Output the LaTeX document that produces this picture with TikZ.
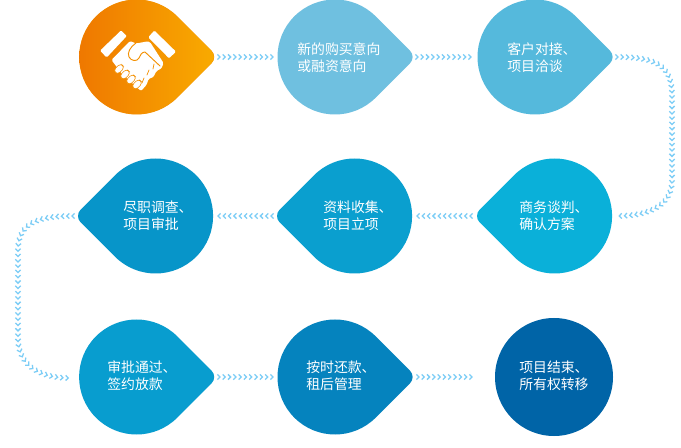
\documentclass[tikz,border=0pt]{standalone}
\usepackage{fontspec}
\setmainfont{Noto Sans CJK SC}
\usetikzlibrary{decorations.markings}
\definecolor{cA}{HTML}{6FC0E0}
\definecolor{cB}{HTML}{55B9DC}
\definecolor{cC}{HTML}{0AB0D9}
\definecolor{cD}{HTML}{0A9FCF}
\definecolor{cE}{HTML}{0795C9}
\definecolor{cF}{HTML}{089DCF}
\definecolor{cG}{HTML}{0583BE}
\definecolor{cH}{HTML}{0064A7}
\definecolor{cChev}{HTML}{7CCDF6}
\definecolor{cOrL}{HTML}{EF7800}
\definecolor{cOrR}{HTML}{F9AB00}
\definecolor{cIcon}{HTML}{F39000}
\tikzset{
  x=.75pt,y=-.75pt,
  label text/.style={text=white,font=\fontsize{10.4pt}{13pt}\selectfont,align=left,anchor=west,inner sep=0pt},
  chevrons/.style={decoration={markings,mark=between positions 0 and 1 step 3.98pt with {
      \draw[cChev,line width=.95pt,line cap=butt,line join=miter] (-1.6,-2.6)--(1,0)--(-1.6,2.6);}},
      postaction={decorate}},
  cuff/.style={fill=white,rounded corners=.8pt},
  finger/.style={draw=cIcon,line width=.45pt,fill=white}
}
\newcommand{\dropat}[4]{% x, y, xscale, fill options
  \fill[#4,shift={(#1,#2)},xscale=#3] (45:57.5) arc[start angle=45,end angle=315,radius=57.5]
    -- ++(34.3,34.3) arc[start angle=-45,end angle=45,radius=9] -- cycle;}
\begin{document}
\begin{tikzpicture}
\useasboundingbox[fill=white] (0,0) rectangle (681,448);
% row 1: solid colour beneath the shading keeps its edge clean
\dropat{136.6}{57}{1}{cIcon}
\begin{scope}
  \clip[shift={(136.6,57)}] (45:57.2) arc[start angle=45,end angle=315,radius=57.2]
    -- ++(34.2,34.2) arc[start angle=-45,end angle=45,radius=9] -- cycle;
  \shade[left color=cOrL,right color=cOrR] (79,-2) rectangle (216,116);
\end{scope}
\dropat{335}{57}{1}{cA}
\dropat{535}{57}{1}{cB}
% row 2 (tips to the left)
\dropat{554.6}{216}{-1}{cC}
\dropat{354.6}{216}{-1}{cD}
\dropat{155.6}{216}{-1}{cE}
% row 3
\dropat{136.6}{377}{1}{cF}
\dropat{335}{377}{1}{cG}
\fill[cH] (554,377) circle[radius=59];
% handshake icon
\fill[cuff] (121,30.5)--(126.8,36)--(106.7,57.5)--(100,50.7)--cycle;
\fill[cuff] (154.3,30.5)--(176,51.7)--(169,58.3)--(148.3,37.3)--cycle;
\fill[white,rounded corners=1pt] (130,41)--(136,43.5)--(147,41.5)--(150,42)--(163.5,63)--(161.5,68.5)
  --(156.5,71)--(153.5,77)--(148.5,79)--(146.5,85)--(141,91)--(122,74)--(111.5,60)--cycle;
\draw[cIcon,line width=.7pt,line cap=round,line join=round] (136,43)
  .. controls (130,47) and (127,53) .. (129,57) .. controls (131,61) and (137,62) .. (139,58)
  .. controls (140,55) and (142,52) .. (145,52) -- (160,66);
\draw[cIcon,line width=.55pt,line cap=round] (154,64)--(153,69) (149,70)--(147,75) (144,78)--(142,83);
\foreach \fx/\fy in {119/69,125/74.5,131/79.5,137/84.5}{
  \fill[finger,shift={(\fx,\fy)},rotate=45,rounded corners=2.5pt] (-5,-3) rectangle (5,3);
}
% labels
\node[label text] (n2) at (297,57.5) {新的购买意向\\或融资意向};
\node[label text] (n3) at (507,57.5) {客户对接、\\项目洽谈};
\node[label text] (n4) at (519,215.5) {商务谈判、\\确认方案};
\node[label text] (n5) at (323,215.5) {资料收集、\\项目立项};
\node[label text] (n6) at (123,215.5) {尽职调查、\\项目审批};
\node[label text] (n7) at (107,376) {审批通过、\\签约放款};
\node[label text] (n8) at (306,376) {按时还款、\\租后管理};
\node[label text] (n9) at (519,376) {项目结束、\\所有权转移};
% connectors
\coordinate (a1) at (219,57); \coordinate (b1) at (273,57);
\coordinate (a2) at (417,57); \coordinate (b2) at (471,57);
\coordinate (a3) at (617,57); \coordinate (b3) at (617,216);
\coordinate (a4) at (471,216); \coordinate (b4) at (417,216);
\coordinate (a5) at (272,216); \coordinate (b5) at (218,216);
\coordinate (a6) at (73,216); \coordinate (b6) at (70,378);
\coordinate (a7) at (219,377); \coordinate (b7) at (273,377);
\coordinate (a8) at (418,377); \coordinate (b8) at (474,377);
\path[chevrons] (a1)--(b1);
\path[chevrons] (a2)--(b2);
\path[chevrons] (a3) .. controls (655,57) and (672,65) .. (672,95) -- (672,180) .. controls (672,205) and (650,216) .. (b3);
\path[chevrons] (a4)--(b4);
\path[chevrons] (a5)--(b5);
\path[chevrons] (a6) .. controls (40,216) and (18,222) .. (18,250) -- (18,338) .. controls (18,362) and (35,378) .. (b6);
\path[chevrons] (a7)--(b7);
\path[chevrons] (a8)--(b8);
\end{tikzpicture}
\end{document}
